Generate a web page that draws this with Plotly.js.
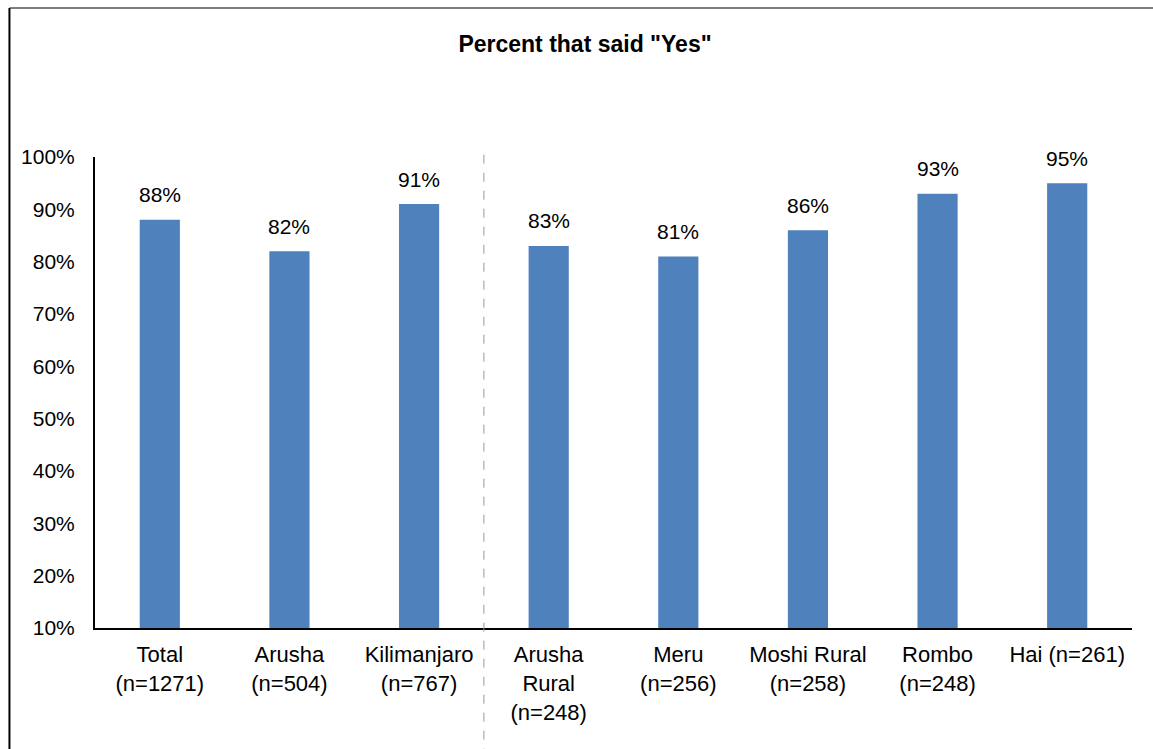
<!DOCTYPE html>
<html>
<head>
<meta charset="utf-8">
<script src="https://cdn.plot.ly/plotly-3.0.1.min.js"></script>
<style>html,body{margin:0;padding:0;background:#fff;}#chart{width:1153px;height:749px;}</style>
</head>
<body>
<div id="chart"></div>
<script>
const categories = ["Total<br>(n=1271)", "Arusha<br>(n=504)", "Kilimanjaro<br>(n=767)", "Arusha<br>Rural<br>(n=248)", "Meru<br>(n=256)", "Moshi Rural<br>(n=258)", "Rombo<br>(n=248)", "Hai (n=261)"];
const yesShare = [0.88, 0.82, 0.91, 0.83, 0.81, 0.86, 0.93, 0.95];
const yTickVals = [0.1, 0.2, 0.3, 0.4, 0.5, 0.6, 0.7, 0.8, 0.9, 1.0];

const FONT = "Liberation Sans, Arial, sans-serif";

const trace = {
  type: "bar",
  x: categories.map((c, i) => i),
  y: yesShare,
  marker: {color: "#4F81BD"},
  hoverinfo: "skip"
};

const annotations = yesShare.map((v, i) => ({
  x: i, y: v, xref: "x", yref: "y",
  text: Math.round(v * 100) + "%",
  showarrow: false, yanchor: "middle", yshift: 25,
  font: {family: FONT, size: 21, color: "#000"}
}));

const layout = {
  width: 1153, height: 749,
  margin: {l: 95, r: 21, t: 157, b: 121},
  paper_bgcolor: "#fff", plot_bgcolor: "#fff",
  showlegend: false,
  bargap: 0.69,
  title: {
    text: "<b>Percent that said \"Yes\"</b>",
    font: {family: FONT, size: 23, color: "#000"},
    x: 585 / 1153, xref: "container", xanchor: "center",
    y: 1 - 44 / 749, yref: "container", yanchor: "middle"
  },
  xaxis: {
    tickmode: "array",
    tickvals: categories.map((c, i) => i),
    ticktext: categories,
    range: [-0.5, categories.length - 0.5],
    showgrid: false, zeroline: false,
    showline: true, linecolor: "#000", linewidth: 2,
    ticks: "", ticklabelstandoff: 6,
    tickfont: {family: FONT, size: 22, color: "#000"},
    fixedrange: true
  },
  yaxis: {
    range: [0.1, 1.0],
    tickmode: "array", tickvals: yTickVals,
    tickformat: ".0%",
    showgrid: false, zeroline: false,
    showline: true, linecolor: "#000", linewidth: 2,
    ticks: "", ticklabelstandoff: 14,
    tickfont: {family: FONT, size: 21, color: "#000"},
    fixedrange: true
  },
  annotations: annotations,
  shapes: [
    {type: "line", xref: "x", yref: "paper", x0: 2.5, x1: 2.5, y0: 1.005, y1: -0.27,
     line: {color: "#999999", width: 1, dash: "dash"}},
    {type: "line", xref: "paper", yref: "paper", x0: -0.0825, x1: 1.05, y0: 1.3165, y1: 1.3165,
     line: {color: "#555", width: 1.5}},
    {type: "line", xref: "paper", yref: "paper", x0: -0.0825, x1: -0.0825, y0: 1.3165, y1: -0.27,
     line: {color: "#000", width: 2}}
  ]
};

Plotly.newPlot("chart", [trace], layout, {displayModeBar: false, staticPlot: true});
</script>
</body>
</html>
